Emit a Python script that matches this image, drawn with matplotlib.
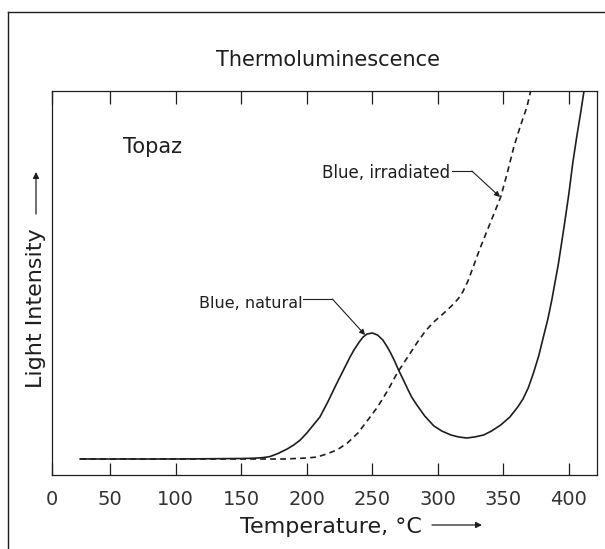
import matplotlib
matplotlib.use("Agg")
import matplotlib.pyplot as plt
from matplotlib.lines import Line2D

# Leitura aproximada da figura (intensidade em unidades arbitrárias)
natural_temp = [27, 100, 150, 160, 165, 169, 172, 178, 185, 190, 195, 200, 205, 210,
                216, 223, 228, 233, 236, 240, 243, 246, 250, 254, 258, 261, 264, 267,
                270, 273, 277, 280, 284, 290, 297, 303, 310, 316, 322, 328, 335, 341,
                348, 355, 361, 365, 369, 373, 377, 380, 384, 387, 392, 396, 400, 403,
                406, 409, 413]
natural_int = [0, 0, 0.05, 0.08, 0.12, 0.18, 0.25, 0.55, 1.0, 1.4, 1.9, 2.6, 3.4, 4.2,
               5.7, 7.6, 8.9, 10.2, 10.9, 11.7, 12.2, 12.5, 12.6, 12.4, 11.9, 11.3, 10.6, 9.8,
               8.9, 8.1, 7.0, 6.2, 5.4, 4.3, 3.3, 2.8, 2.4, 2.2, 2.1, 2.2, 2.4, 2.8,
               3.4, 4.2, 5.2, 6.0, 7.1, 8.6, 10.3, 11.9, 14.0, 15.9, 19.5, 22.9, 26.5, 29.6,
               32.2, 34.6, 38]

irradiated_temp = [27, 165, 182, 192, 200, 208, 215, 223, 231, 239, 246, 254, 262, 269,
                   277, 284, 290, 296, 303, 308, 312, 316, 319, 323, 327, 332, 336, 340,
                   344, 348, 353, 358, 363, 368, 373]
irradiated_int = [0, 0, 0, 0.05, 0.1, 0.2, 0.5, 0.9, 1.6, 2.6, 3.8, 5.2, 6.9, 8.6,
                  10.2, 11.6, 12.7, 13.6, 14.4, 15.0, 15.5, 16.1, 16.7, 17.8, 19.2, 21.0, 22.3, 23.6,
                  24.9, 26.2, 28.6, 31.2, 33.3, 35.2, 38]

tick_pos    = [5.5, 50, 100, 150, 200, 250, 300, 350, 400]
tick_labels = ["0", "50", "100", "150", "200", "250", "300", "350", "400"]

ink = "#1e1e1e"

fig = plt.figure(figsize=(6.05, 5.49), dpi=100)
ax = fig.add_axes([52 / 605, 1 - 475 / 549, 545 / 605, (475 - 91) / 549])

ax.plot(natural_temp, natural_int, color=ink, lw=1.2)
ax.plot(irradiated_temp, irradiated_int, color=ink, lw=1.2, ls=(0, (3.5, 2.5)))

ax.set_xlim(5.5, 421.5)
ax.set_ylim(-1.6, 36.8)
ax.set_xticks(tick_pos)
ax.set_xticklabels(tick_labels, fontsize=14, color="#333")
ax.set_yticks([])
ax.tick_params(axis="x", direction="in", length=9, width=0.9, top=True, pad=11, color=ink)
for s in ax.spines.values():
    s.set_linewidth(0.9)
    s.set_color(ink)

# Rótulos
ax.text(82, 31.2, "Topaz", fontsize=15, color=ink, ha="center", va="center")

ax.text(196.5, 15.6, "Blue, natural", fontsize=11.5, color=ink, ha="right", va="center")
ax.plot([197, 219.5], [16.0, 16.0], color=ink, lw=0.8)
ax.annotate("", xy=(244.5, 12.4), xytext=(219.5, 16.0),
            arrowprops=dict(arrowstyle="-|>", color=ink, lw=0.8, mutation_scale=8,
                            shrinkA=0, shrinkB=0))

ax.text(309.5, 28.6, "Blue, irradiated", fontsize=12, color=ink, ha="right", va="center")
ax.plot([311, 326], [28.8, 28.8], color=ink, lw=0.8)
ax.annotate("", xy=(347.5, 26.2), xytext=(326, 28.8),
            arrowprops=dict(arrowstyle="-|>", color=ink, lw=0.8, mutation_scale=8,
                            shrinkA=0, shrinkB=0))

fig.text(328 / 605, 1 - 60 / 549, "Thermoluminescence", fontsize=15, color=ink,
         ha="center", va="center")

# Eixo x: texto + seta
fig.text(331 / 605, 1 - 527 / 549, "Temperature, °C", fontsize=16, color=ink,
         ha="center", va="center")
ax.annotate("", xy=(482, 549 - 525), xytext=(432, 549 - 525),
            xycoords="figure pixels", textcoords="figure pixels",
            arrowprops=dict(arrowstyle="-|>", color=ink, lw=0.9, mutation_scale=9,
                            shrinkA=0, shrinkB=0))

# Eixo y: texto + seta
fig.text(36 / 605, 1 - 308 / 549, "Light Intensity", fontsize=16, color=ink,
         rotation=90, ha="center", va="center")
ax.annotate("", xy=(36, 549 - 172), xytext=(36, 549 - 214),
            xycoords="figure pixels", textcoords="figure pixels",
            arrowprops=dict(arrowstyle="-|>", color=ink, lw=0.9, mutation_scale=9,
                            shrinkA=0, shrinkB=0))

# Moldura externa
fig.add_artist(Line2D([8 / 605, 8 / 605], [0, 1 - 12 / 549], transform=fig.transFigure,
                      color=ink, lw=1.0))
fig.add_artist(Line2D([8 / 605, 1], [1 - 12 / 549, 1 - 12 / 549], transform=fig.transFigure,
                      color=ink, lw=1.0))

plt.savefig("out.png", dpi=100)
